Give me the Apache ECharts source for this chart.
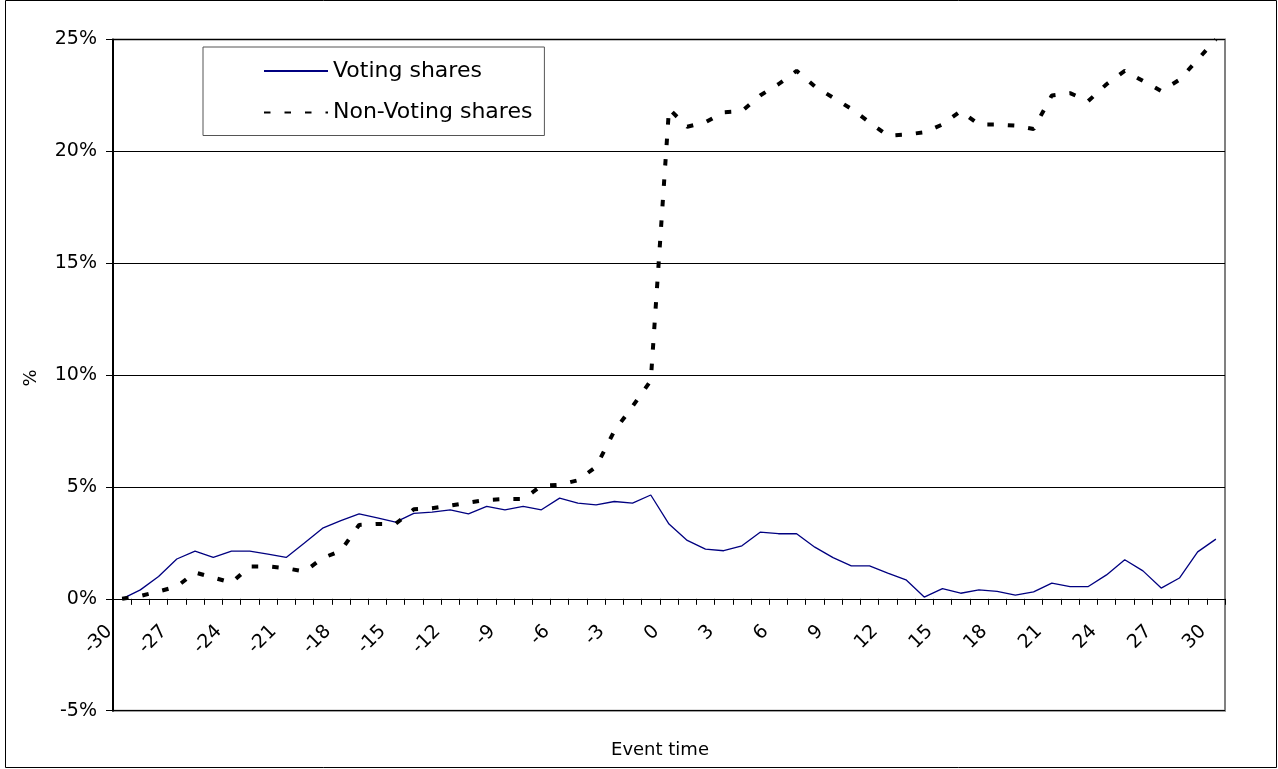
<!DOCTYPE html>
<html><head><meta charset="utf-8">
<script src="https://cdn.jsdelivr.net/npm/echarts@6/dist/echarts.min.js"></script>
<style>html,body{margin:0;padding:0;background:#fff}#c{width:1278px;height:769px}</style>
</head><body><div id="c"></div>
<script>
const eventTime = ['-30','-29','-28','-27','-26','-25','-24','-23','-22','-21','-20','-19','-18','-17','-16','-15','-14','-13','-12','-11','-10','-9','-8','-7','-6','-5','-4','-3','-2','-1','0','1','2','3','4','5','6','7','8','9','10','11','12','13','14','15','16','17','18','19','20','21','22','23','24','25','26','27','28','29','30'];
const votingShares = [0.0,0.40,1.0,1.78,2.13,1.85,2.13,2.13,2.0,1.85,2.5,3.16,3.5,3.8,3.62,3.43,3.82,3.88,3.98,3.8,4.13,3.98,4.13,3.98,4.5,4.28,4.2,4.35,4.28,4.64,3.34,2.61,2.22,2.15,2.37,2.98,2.91,2.91,2.31,1.84,1.47,1.47,1.15,0.85,0.08,0.46,0.25,0.4,0.33,0.17,0.31,0.7,0.55,0.55,1.07,1.75,1.25,0.48,0.93,2.1,2.67];
const nonVotingShares = [0.0,0.13,0.33,0.55,1.18,0.95,0.72,1.45,1.45,1.37,1.22,1.82,2.15,3.3,3.35,3.35,4.0,4.05,4.17,4.3,4.42,4.46,4.46,5.05,5.1,5.3,5.9,7.5,8.6,9.75,21.9,21.1,21.3,21.75,21.8,22.5,23.0,23.6,22.9,22.4,21.9,21.3,20.7,20.75,20.85,21.2,21.8,21.2,21.2,21.15,21.0,22.5,22.6,22.25,23.0,23.6,23.15,22.7,23.2,24.1,25.0];
const seriesNames = ['Voting shares','Non-Voting shares'];
const yMin = -5, yMax = 25, yStep = 5;
const axisTitleX = 'Event time';
const axisTitleY = '%';

const FONT = 'DejaVu Sans';
const gridTop = 39.5, gridBottom = 58.3;
const plotH = 769 - gridTop - gridBottom;
const zeroOffset = plotH * (0 - yMin) / (yMax - yMin); // distance of 0% line above bottom
const chart = echarts.init(document.getElementById('c'), null, {renderer:'canvas'});
chart.setOption({
  animation:false,
  backgroundColor:'#fff',
  textStyle:{fontFamily:FONT},
  grid:{left:113, right:53, top:gridTop, bottom:gridBottom, show:true, borderColor:'#808080', borderWidth:2, backgroundColor:'transparent'},
  legend:{
    orient:'vertical', left:203, top:47,
    backgroundColor:'#fff', borderColor:'#555', borderWidth:1,
    padding:[13,12,12,60], itemWidth:64, itemHeight:14, itemGap:19.5,
    itemStyle:{opacity:0, borderWidth:0},
    textStyle:{fontFamily:FONT, fontSize:22, color:'#000'},
    data:seriesNames
  },
  xAxis:{
    type:'category', data:eventTime, boundaryGap:true,
    offset:-zeroOffset,
    axisLine:{onZero:false, lineStyle:{color:'#000', width:1}},
    axisTick:{show:true, interval:0, length:6, lineStyle:{color:'#000'}},
    axisLabel:{interval:2, rotate:45, margin:17, padding:[0,18,0,0], fontFamily:FONT, fontSize:19, color:'#000'},
    splitLine:{show:false}
  },
  yAxis:{
    type:'value', min:yMin, max:yMax, interval:yStep,
    axisLine:{show:true, lineStyle:{color:'#000', width:2}},
    axisTick:{show:true, length:7, lineStyle:{color:'#000'}},
    axisLabel:{formatter:'{value}%', margin:16, fontFamily:FONT, fontSize:19, color:'#000'},
    splitLine:{show:true, lineStyle:{color:'#000', width:1}}
  },
  graphic:[
    {type:'rect', shape:{x:5.5,y:0.5,width:1271,height:767}, style:{fill:'none', stroke:'#000', lineWidth:1}, silent:true, z:-1},
    {type:'text', x:660, y:750, style:{text:axisTitleX, font:'18px "DejaVu Sans"', fill:'#000', textAlign:'center', textVerticalAlign:'middle'}},
    {type:'text', x:31, y:378, rotation:Math.PI/2, style:{text:axisTitleY, font:'18px "DejaVu Sans"', fill:'#000', textAlign:'center', textVerticalAlign:'middle'}}
  ],
  series:[
    {name:seriesNames[0], type:'line', data:votingShares, symbol:'none', z:3,
     lineStyle:{color:'#000080', width:1.3}, itemStyle:{color:'#000080'}},
    {name:seriesNames[1], type:'line', data:nonVotingShares, symbol:'none', z:4,
     lineStyle:{color:'#000', width:4, type:[6.5,14], cap:'butt'}, itemStyle:{color:'#000'}}
  ]
});
</script></body></html>
